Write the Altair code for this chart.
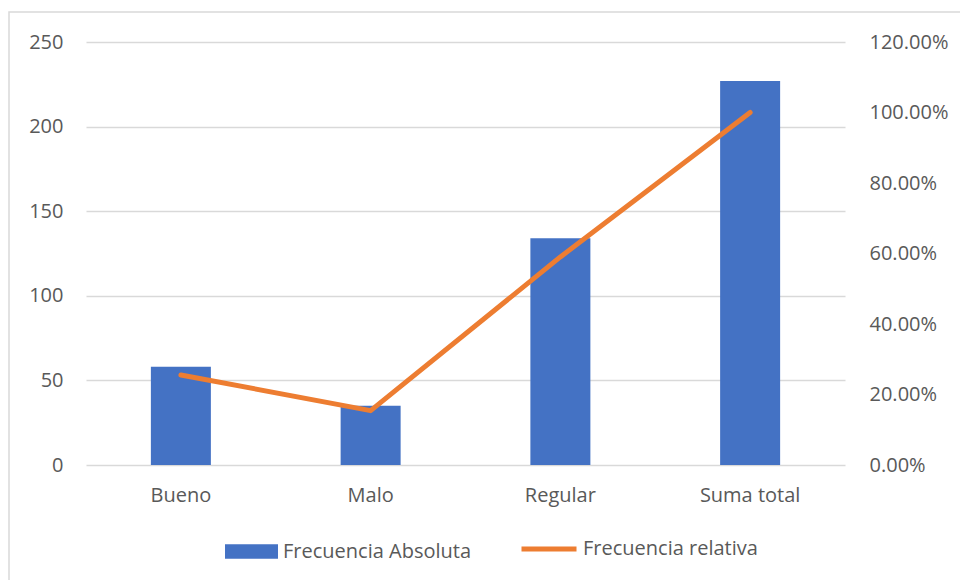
import altair as alt
import pandas as pd

categorias = ["Bueno", "Malo", "Regular", "Suma total"]
absoluta = [58, 35, 134, 227]
relativa = [0.2555, 0.1542, 0.5903, 1.0]
serie_abs = "Frecuencia Absoluta"
serie_rel = "Frecuencia relativa"
y_left_ticks = [0, 50, 100, 150, 200, 250]
y_right_ticks = [0.0, 0.2, 0.4, 0.6, 0.8, 1.0, 1.2]

df = pd.DataFrame({
    "categoria": categorias,
    "absoluta": absoluta,
    "relativa": relativa,
    "s1": [serie_abs] * len(categorias),
    "s2": [serie_rel] * len(categorias),
})

FONT = "Open Sans"
TXT = "#595959"
W, H = 759, 423

x_enc = alt.X(
    "categoria:N",
    sort=categorias,
    scale=alt.Scale(paddingInner=0, paddingOuter=0),
    axis=alt.Axis(title=None, labelAngle=0, ticks=False, domain=False,
                  labelPadding=20, labelFontSize=20, labelColor=TXT, labelFont=FONT),
)

base = alt.Chart(df).encode(x=x_enc)

bars = base.mark_bar(size=60).encode(
    y=alt.Y("absoluta:Q",
            scale=alt.Scale(domain=[0, 250], nice=False),
            axis=alt.Axis(title=None, values=y_left_ticks, grid=True, gridColor="#D9D9D9",
                          gridWidth=1.3, ticks=False, domain=False, labelPadding=23,
                          labelFontSize=20, labelColor=TXT, labelFont=FONT)),
    fill=alt.Fill("s1:N", scale=alt.Scale(range=["#4472C4"]),
                  legend=alt.Legend(title=None, orient="none", legendX=139, legendY=483,
                                    symbolType="M-1,-0.27L1,-0.27L1,0.27L-1,0.27Z",
                                    symbolSize=2809, symbolStrokeWidth=0, labelOffset=5,
                                    labelFontSize=20, labelColor=TXT, labelFont=FONT,
                                    labelLimit=400, padding=0)),
)

line = base.mark_line(strokeWidth=5, strokeCap="round", strokeJoin="round").encode(
    y=alt.Y("relativa:Q",
            scale=alt.Scale(domain=[0, 1.2], nice=False),
            axis=alt.Axis(title=None, orient="right", values=y_right_ticks, format=".2%",
                          grid=False, ticks=False, domain=False, labelPadding=24,
                          labelFontSize=20, labelColor=TXT, labelFont=FONT)),
    stroke=alt.Stroke("s2:N", scale=alt.Scale(range=["#ED7D31"]),
                      legend=alt.Legend(title=None, orient="none", legendX=433, legendY=477,
                                        symbolType="stroke", symbolSize=3025,
                                        symbolStrokeWidth=5, labelOffset=4,
                                        labelFontSize=20, labelColor=TXT, labelFont=FONT,
                                        labelLimit=400, padding=0)),
)

border = alt.Chart(pd.DataFrame({"b": [0]})).mark_rect(
    fill=None, stroke="#D9D9D9", strokeWidth=1.5
).encode(
    x=alt.value(-77), x2=alt.value(900), y=alt.value(-30), y2=alt.value(560)
)

chart = alt.layer(border, bars, line).resolve_scale(
    y="independent", fill="independent", stroke="independent"
).properties(
    width=W, height=H,
    autosize=alt.AutoSizeParams(type="none"),
    padding={"left": 86, "top": 42, "right": 115, "bottom": 115},
    background="white",
).configure_view(stroke=None)

chart.save("out.html", embed_options={"renderer": "svg", "actions": False})
